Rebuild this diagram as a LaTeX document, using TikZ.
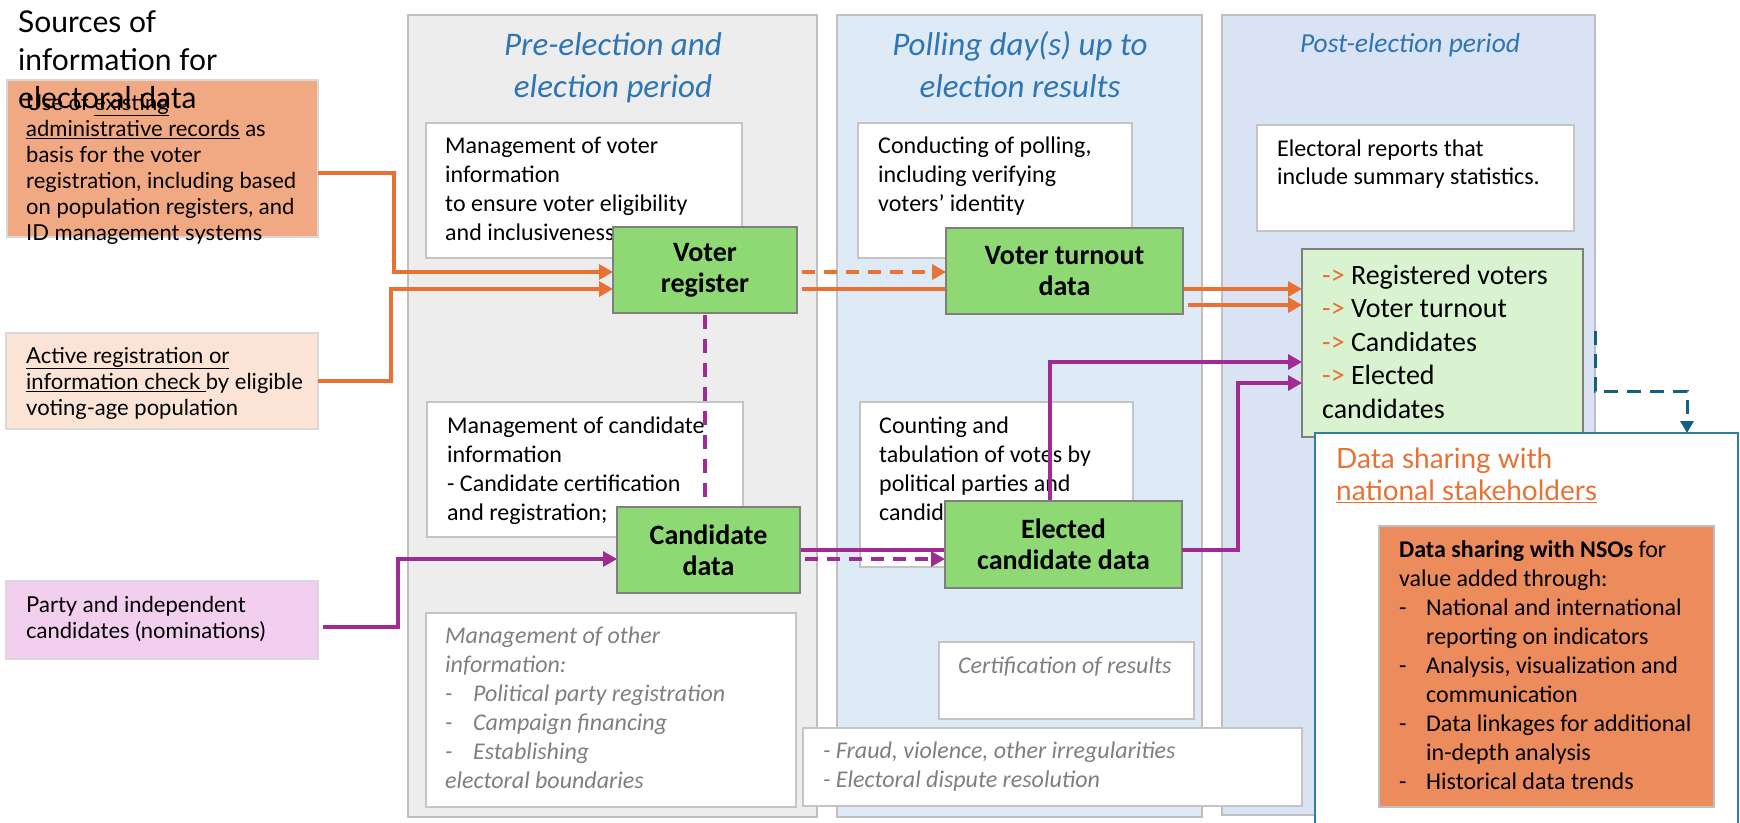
\documentclass[tikz,border=0pt]{standalone}
\usepackage{fontspec}
\setmainfont{Carlito}
\newfontfamily\aptfont{Lato}
\usetikzlibrary{arrows.meta,calc}
\definecolor{colgray}{HTML}{EDEDED}
\definecolor{coltwo}{HTML}{DEEAF6}
\definecolor{colthree}{HTML}{DAE3F3}
\definecolor{bordergray}{HTML}{BFBFBF}
\definecolor{wbgray}{HTML}{C4C4C4}
\definecolor{titleblue}{HTML}{2E75B6}
\definecolor{greenbox}{HTML}{8ED973}
\definecolor{greenborder}{HTML}{7F7F7F}
\definecolor{orangeline}{HTML}{E97132}
\definecolor{purpleline}{HTML}{A02B93}
\definecolor{tealline}{HTML}{156082}
\definecolor{dsborder}{HTML}{2E7FA1}
\definecolor{boxone}{HTML}{F1A983}
\definecolor{boxtwo}{HTML}{FBE3D6}
\definecolor{boxthree}{HTML}{F2CFEE}
\definecolor{leftborder}{HTML}{D9D9D9}
\definecolor{summaryfill}{HTML}{D9F2D0}
\definecolor{nsofill}{HTML}{EC8B5C}
\definecolor{graytext}{HTML}{7F7F7F}
\newcommand\setfs[2]{\fontsize{#1}{#2}\selectfont}
\begin{document}
\begin{tikzpicture}[x=1pt,y=-1pt,
  rect/.style={anchor=north west, inner sep=0pt, outer sep=0pt},
  sz/.style 2 args={minimum width=#1pt, minimum height=#2pt},
  colbox/.style={rect, draw=bordergray, line width=2pt},
  wbox/.style={rect, fill=white, draw=wbgray, line width=2pt},
  lbox/.style={rect, draw=leftborder, line width=2pt},
  gbox/.style={rect, fill=greenbox, draw=greenborder, line width=2.5pt, font=\setfs{28}{31}\bfseries, align=center},
  txt/.style={anchor=north west, inner sep=0pt, align=left},
  calf/.style={font=\setfs{24}{29}},
  aptf/.style={font=\aptfont\setfs{22}{26}},
  grayit/.style={font=\setfs{24}{29}\itshape, text=graytext},
  oline/.style={draw=orangeline, line width=3.2pt},
  pline/.style={draw=purpleline, line width=3.2pt},
  myarrow/.style={-{Triangle[length=14pt,width=15pt]}},
  dsh/.style={dash pattern=on 13pt off 9pt},
]
\useasboundingbox (0,0) rectangle (1740,822);
\fill[white] (0,0) rectangle (1740,822);

% columns
\node[colbox, sz={409}{802}, fill=colgray] (c1) at (408,15) {};
\node[colbox, sz={365}{802}, fill=coltwo] (c2) at (837,15) {};
\node[colbox, sz={373}{800}, fill=colthree] (c3) at (1222,15) {};
\node[anchor=north, inner sep=0pt, align=center, font=\setfs{33}{42}\itshape, text=titleblue] (h1) at (613,25.6) {\strut Pre-election and\\election period};
\node[anchor=north, inner sep=0pt, align=center, font=\setfs{33}{42}\itshape, text=titleblue] (h2) at (1020,25.6) {\strut Polling day(s) up to\\election results};
\node[anchor=north, inner sep=0pt, align=center, font=\setfs{27.5}{33}\itshape, text=titleblue] (h3) at (1410,28.9) {\strut Post-election period};

% left source boxes
\node[lbox, sz={311}{157}, fill=boxone] (B1) at (7,80) {};
\node[txt, aptf] (tB1) at (26,91.8) {\strut Use of \underline{existing}\\\underline{administrative records} as\\basis for the voter\\registration, including based\\on population registers, and\\ID management systems};
\node[lbox, sz={312}{96}, fill=boxtwo] (B2) at (6,333) {};
\node[txt, aptf] (tB2) at (26,344.8) {\strut \underline{Active registration or}\\\underline{information check\ }by eligible\\voting-age population};
\node[lbox, sz={312}{78}, fill=boxthree] (B3) at (6,581) {};
\node[txt, aptf] (tB3) at (26,593.8) {\strut Party and independent\\candidates (nominations)};
\node[txt, font=\aptfont\setfs{30}{38}] (title) at (18,5.4) {\strut Sources of\\information for\\electoral data};

% white boxes
\node[wbox, sz={316}{135}] (W1) at (426,123) {};
\node[txt, calf] (tW1) at (445,132.7) {\strut Management of voter\\information\\to ensure voter eligibility\\and inclusiveness};
\node[wbox, sz={316}{135}] (W2) at (427,402) {};
\node[txt, calf] (tW2) at (447,412.7) {\strut Management of candidate\\information\\- Candidate certification\\and registration;};
\node[wbox, sz={370}{194}] (W3) at (426,613) {};
\node[txt, grayit] (tW3) at (445,622.7) {\strut Management of other\\information:\\\makebox[28pt][l]{-}Political party registration\\\makebox[28pt][l]{-}Campaign financing\\\makebox[28pt][l]{-}Establishing\\electoral boundaries};
\node[wbox, sz={274}{135}] (W4) at (858,123) {};
\node[txt, calf] (tW4) at (878,132.7) {\strut Conducting of polling,\\including verifying\\voters’ identity};
\node[wbox, sz={273}{165}] (W5) at (860,402) {};
\node[txt, calf] (tW5) at (879,412.7) {\strut Counting and\\tabulation of votes by\\political parties and\\candidates};
\node[wbox, sz={255}{77}] (W6) at (939,642) {};
\node[txt, grayit] (tW6) at (958,652.7) {\strut Certification of results};
\node[wbox, sz={499}{78}] (W7) at (803,728) {};
\node[txt, grayit] (tW7) at (823,737.7) {\strut - Fraud, violence, other irregularities\\- Electoral dispute resolution};
\node[wbox, sz={317}{106}] (W8) at (1257,125) {};
\node[txt, font=\setfs{24}{28}] (tW8) at (1277,136.4) {\strut Electoral reports that\\include summary statistics.};

% summary box
\node[rect, sz={281}{188}, fill=summaryfill, draw=greenborder, line width=2.5pt] (SM) at (1302,249) {};
\node[txt, font=\setfs{28}{33.5}] (tSM) at (1322,260.55) {\strut{\color{orangeline}->} Registered voters\\{\color{orangeline}->} Voter turnout\\{\color{orangeline}->} Candidates\\{\color{orangeline}->} Elected\\candidates};

% green boxes (nodes first defined invisibly for connectors behind)
\node[rect, sz={184}{86}] (VR) at (613,227) {};
\node[rect, sz={237}{86}] (VT) at (946,228) {};
\node[rect, sz={183}{86}] (CD) at (617,507) {};
\node[rect, sz={237}{87}] (EL) at (945,501) {};

% connectors hidden partly behind boxes
\draw[oline, myarrow] ($(VR.east)+(5,19)$) -- ($(SM.west)+(0,-54)$);
\draw[pline, myarrow] (CD.east) -- ++(250,0) |- ($(SM.west)+(0,19)$);

% visible green boxes
\node[gbox, sz={184}{86}] (VRb) at (613,227) {Voter\\register};
\node[gbox, sz={237}{86}] (VTb) at (946,228) {Voter turnout\\data};
\node[gbox, sz={183}{86}] (CDb) at (617,507) {Candidate\\data};
\node[gbox, sz={237}{87}] (ELb) at (945,501) {Elected\\candidate data};

% other connectors
\draw[oline, myarrow] ($(B1.east)+(0,14.5)$) -- ++(76,0) |- ($(VR.west)+(0,2)$);
\draw[oline, myarrow] (B2.east) -- ++(73,0) |- ($(VR.west)+(0,19)$);
\draw[oline, dsh, myarrow] ($(VR.east)+(5,2)$) -- ($(VT.west)+(0,1)$);
\draw[oline, myarrow] ($(VT.east)+(5,34)$) -- ($(SM.west)+(0,-38)$);
\draw[pline, myarrow] ($(B3.east)+(5,7)$) -- ++(75,0) |- ($(CD.west)+(0,9)$);
\draw[pline, dash pattern=on 14pt off 10pt] ($(VR.south)+(0,2)$) -- (VR.south |- CD.north);
\draw[pline, dsh, myarrow] ($(CD.east)+(5,9)$) -- ($(EL.west)+(0,14.5)$);
\draw[pline, myarrow] ($(EL.east)+(0,5.5)$) -- ++(56,0) |- ($(SM.west)+(0,40)$);

% data sharing box
\node[rect, sz={423}{420}, fill=white, draw=dsborder, line width=2pt] (DS) at (1315,433) {};
\node[txt, font=\aptfont\setfs{28}{32}, text=orangeline] (tDS) at (1336,445.6) {\strut Data sharing with\\\underline{national stakeholders}};
\node[rect, sz={335}{281}, fill=nsofill, draw=bordergray, line width=2pt] (NSO) at (1379,526) {};
\node[txt, font=\setfs{24}{29.1}] (tNSO) at (1399,536.6) {\strut\textbf{Data sharing with NSOs} for\\value added through:\\\makebox[27pt][l]{-}National and international\\\hspace*{27pt}reporting on indicators\\\makebox[27pt][l]{-}Analysis, visualization and\\\hspace*{27pt}communication\\\makebox[27pt][l]{-}Data linkages for additional\\\hspace*{27pt}in-depth analysis\\\makebox[27pt][l]{-}Historical data trends};

% teal dashed connector
\coordinate (tstart) at (1595,331);
\coordinate (tturn) at (1687,391);
\draw[draw=tealline, line width=3pt, dash pattern=on 14pt off 9pt, -{Triangle[length=12pt,width=13pt]}] (tstart) |- (tturn) -- (tturn |- DS.north);
\end{tikzpicture}
\end{document}
